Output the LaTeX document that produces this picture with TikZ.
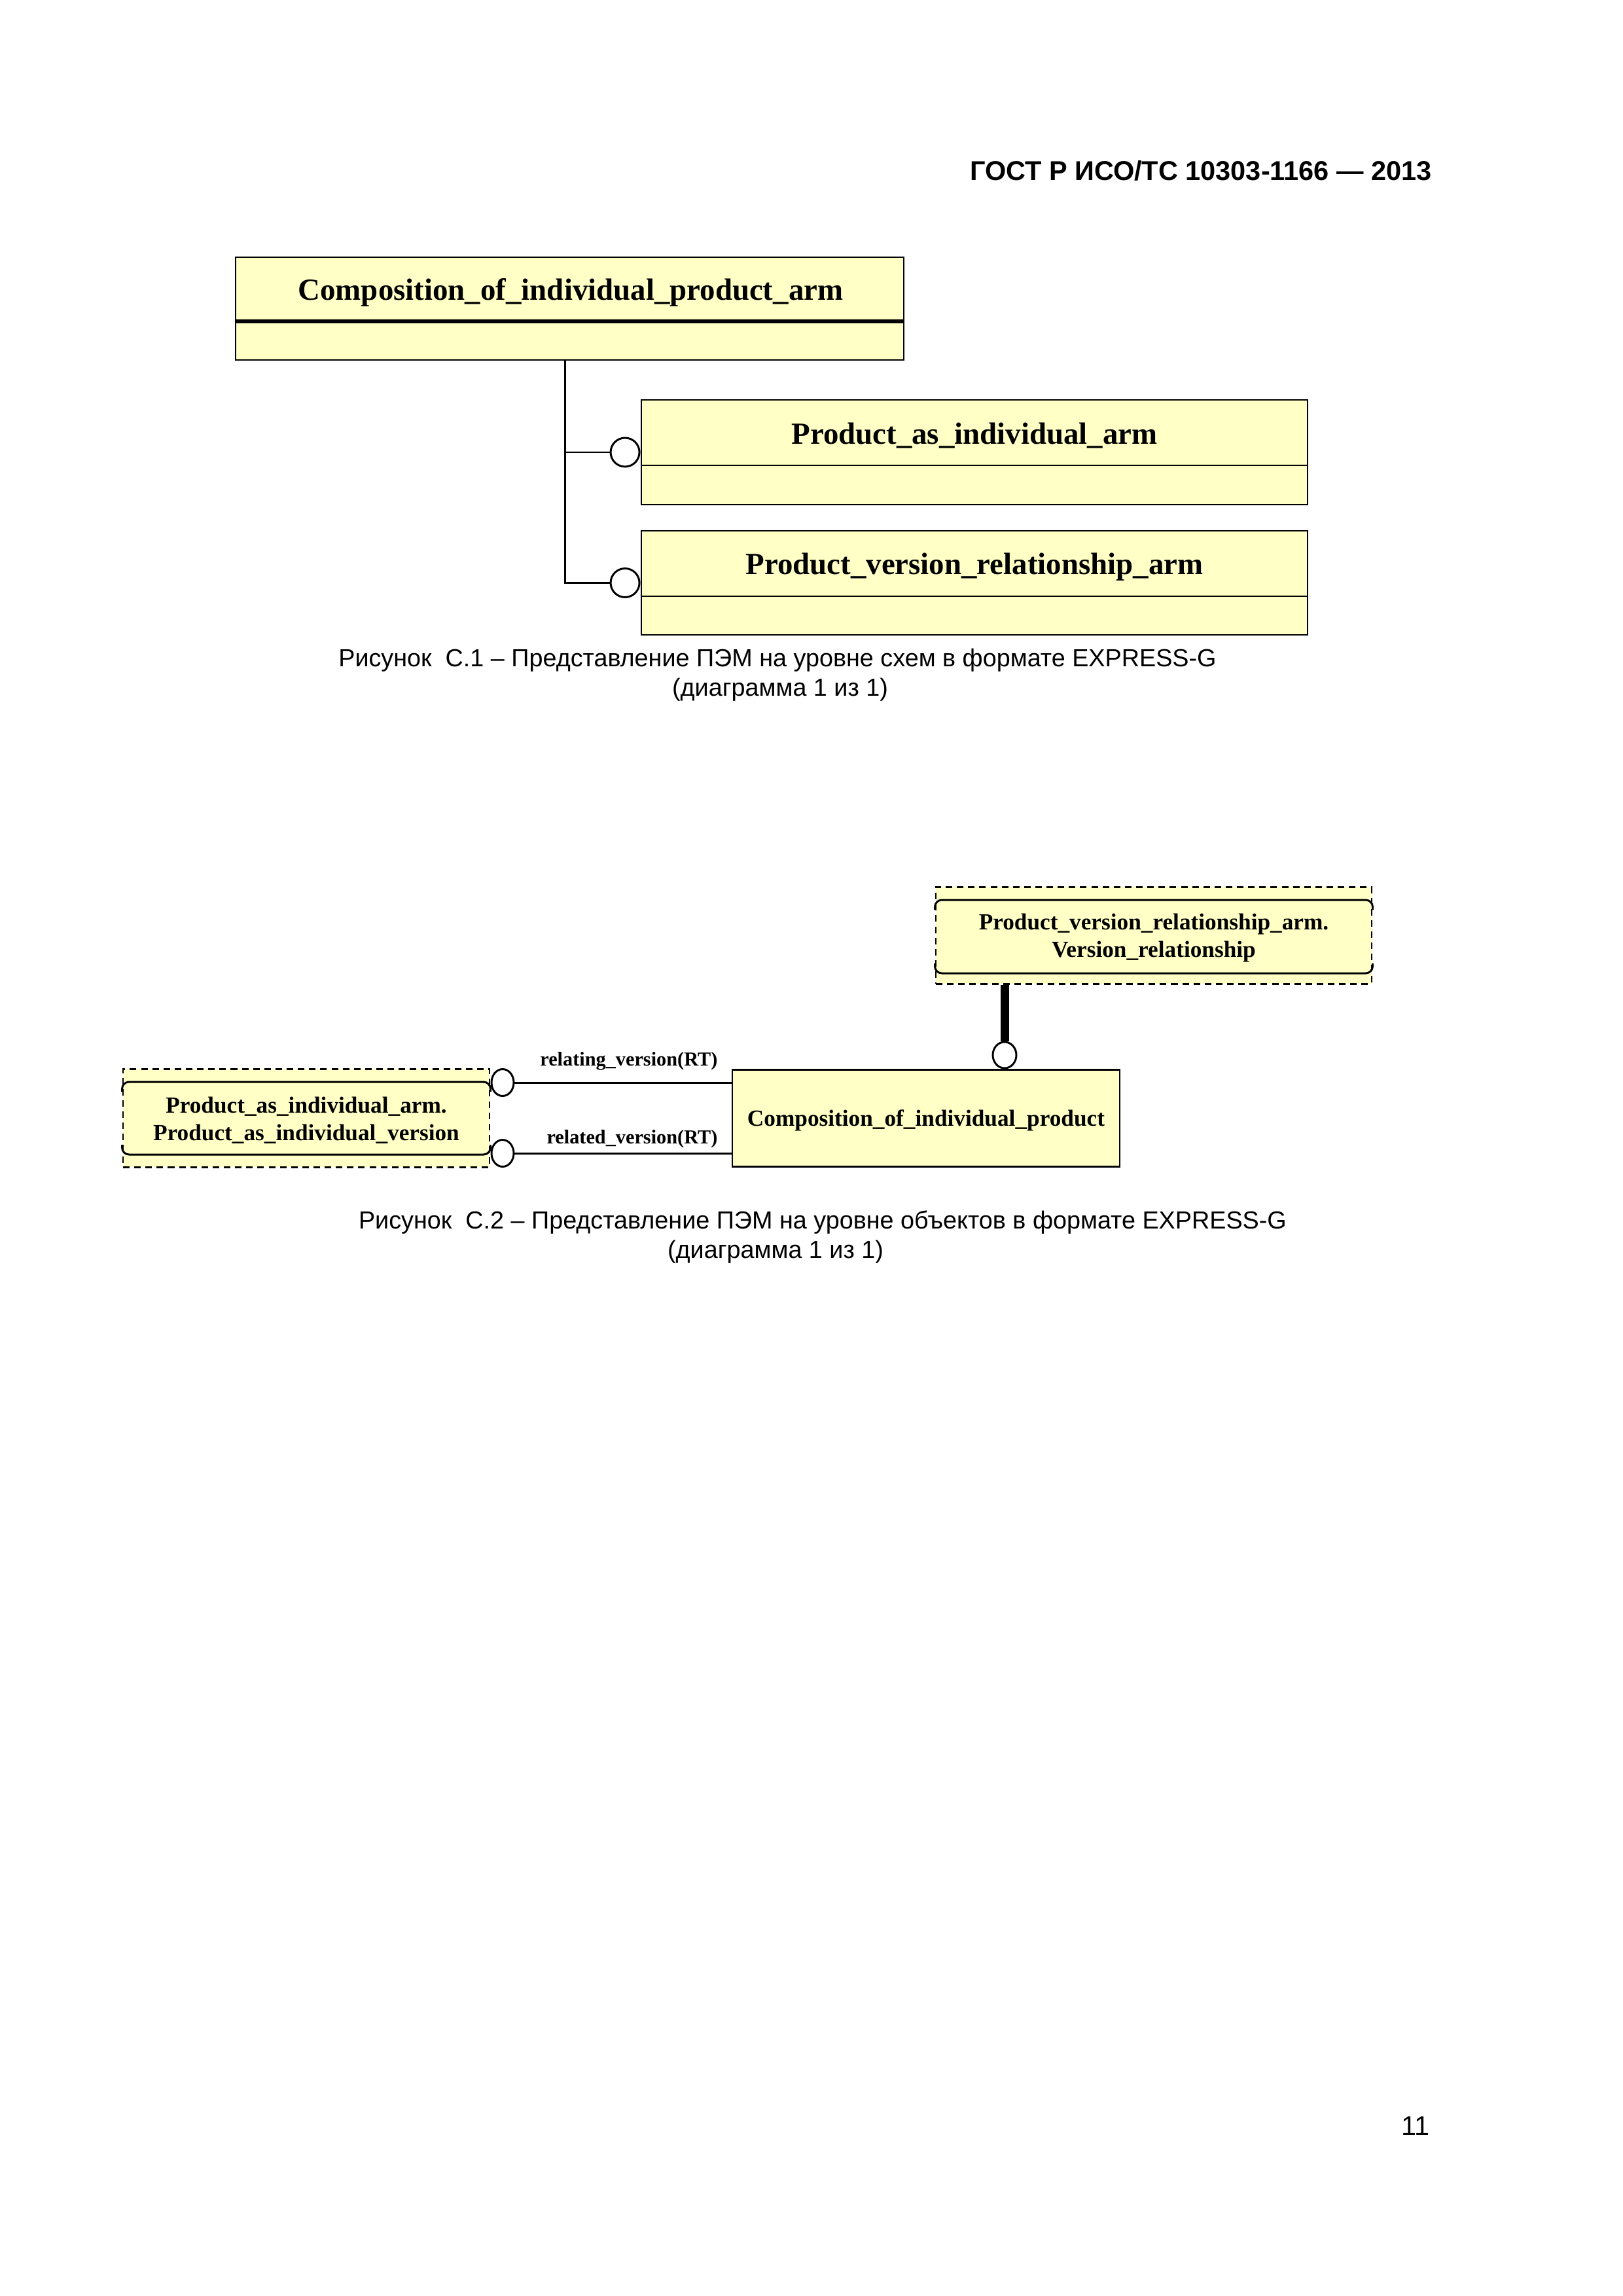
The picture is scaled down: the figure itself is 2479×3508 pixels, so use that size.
\documentclass[tikz,border=0pt]{standalone}
\usepackage{fontspec}
\setmainfont{Liberation Sans}
\newfontfamily\expfont{Liberation Serif}
\usetikzlibrary{positioning,shapes.geometric}
\definecolor{boxfill}{RGB}{255,255,198}
\newcommand{\pxu}{0.08471mm}

\begin{document}
\begin{tikzpicture}[x=\pxu, y=-\pxu, line width=0.25mm,
	ent/.style={draw, fill=boxfill, inner sep=0pt},
	refbox/.style={draw, dash pattern=on 0.85mm off 0.6mm, fill=boxfill, inner sep=0pt},
	ring/.style={draw, ellipse, inner sep=0pt},
	bigname/.style={font=\fontsize{11.3}{13}\expfont\bfseries},
	smallname/.style={font=\fontsize{8.5}{10.2}\expfont\bfseries, align=center},
	role/.style={font=\fontsize{7.3}{8}\expfont\bfseries},
	capt/.style={font=\fontsize{9.1}{10.8}\selectfont, anchor=base}]
	\useasboundingbox (0,0) rectangle (2479,3508);
	\fill[white] (0,0) rectangle (2479,3508);

	\node[font=\fontsize{10}{12}\selectfont\bfseries, anchor=base east] (head) at (2203,275) {ГОСТ Р ИСО/ТС 10303-1166 — 2013};

	% schema level
	\node[ent, minimum width=1021*\pxu, minimum height=157*\pxu] (cip) at (870.5,471.5) {};
	\node[bigname, anchor=base] (cip-t) at (872,458) {Composition\_of\_individual\_product\_arm};
	\draw[line width=0.57mm] (cip.west |- 0,491) -- (cip.east |- 0,491);

	\node[ent, minimum width=1018*\pxu, minimum height=160*\pxu] (pai) at (1489,691) {};
	\node[bigname, anchor=base] (pai-t) at (1489,678) {Product\_as\_individual\_arm};
	\draw (pai.west |- 0,711) -- (pai.east |- 0,711);

	\node[ent, minimum width=1018*\pxu, minimum height=159*\pxu] (pvr) at (1489,890.5) {};
	\node[bigname, anchor=base] (pvr-t) at (1489,877) {Product\_version\_relationship\_arm};
	\draw (pvr.west |- 0,911) -- (pvr.east |- 0,911);

	\node[ring, minimum width=44*\pxu, minimum height=44*\pxu, left=0pt of pai] (pai-c) {};
	\node[ring, minimum width=44*\pxu, minimum height=44*\pxu, left=0pt of pvr] (pvr-c) {};
	\coordinate (trunk) at ([xshift=-0.6mm]cip.south);
	\draw (trunk) |- (pvr-c.west);
	\draw (pai-c.west) -- (pai-c.west -| trunk);

	\node[capt] (cap1) at (1188,1018) {Рисунок \ С.1 – Представление ПЭМ на уровне схем в формате EXPRESS-G};
	\node[capt] (cap1b) at (1192,1063) {(диаграмма 1 из 1)};

	% object level
	\node[refbox, minimum width=666*\pxu, minimum height=148*\pxu] (vr) at (1763,1429) {};
	\draw[rounded corners=0.9mm] (vr.west |- 0,1390) -- (vr.west |- 0,1375) -- (vr.east |- 0,1375) -- (vr.east |- 0,1390);
	\draw[rounded corners=0.9mm] (vr.west |- 0,1472) -- (vr.west |- 0,1487) -- (vr.east |- 0,1487) -- (vr.east |- 0,1472);
	\node[smallname] (vr-t) at (1763,1433) {Product\_version\_relationship\_arm.\\Version\_relationship};

	\node[refbox, minimum width=560*\pxu, minimum height=150*\pxu] (piv) at (468,1708) {};
	\draw[rounded corners=0.9mm] (piv.west |- 0,1668) -- (piv.west |- 0,1653) -- (piv.east |- 0,1653) -- (piv.east |- 0,1668);
	\draw[rounded corners=0.9mm] (piv.west |- 0,1749) -- (piv.west |- 0,1764) -- (piv.east |- 0,1764) -- (piv.east |- 0,1749);
	\node[smallname] (piv-t) at (468,1712) {Product\_as\_individual\_arm.\\Product\_as\_individual\_version};

	\node[ent, minimum width=592*\pxu, minimum height=148*\pxu] (cio) at (1415,1708) {};
	\node[smallname, anchor=base] (cio-t) at (1415,1720) {Composition\_of\_individual\_product};

	\node[ring, minimum width=36*\pxu, minimum height=40*\pxu] (vr-c) at (1535,1612) {};
	\draw[line width=1.1mm] (vr-c.north) -- (vr-c.north |- vr.south);

	\node[ring, minimum width=34*\pxu, minimum height=41*\pxu] (rel1-c) at (768,1654) {};
	\node[ring, minimum width=34*\pxu, minimum height=41*\pxu] (rel2-c) at (768,1762) {};
	\draw (rel1-c.east) -- (rel1-c.east -| cio.west)
		node[role, anchor=base east, xshift=-0.5mm, yshift=2.2mm] {relating\_version(RT)};
	\draw (rel2-c.east) -- (rel2-c.east -| cio.west)
		node[role, anchor=base east, xshift=-0.5mm, yshift=1.2mm] {related\_version(RT)};

	\node[capt] (cap2) at (1257,1877) {Рисунок \ С.2 – Представление ПЭМ на уровне объектов в формате EXPRESS-G};
	\node[capt] (cap2b) at (1185,1922) {(диаграмма 1 из 1)};

	\node[font=\fontsize{10}{12}\selectfont, anchor=base east] (pnum) at (2200,3262) {11};
\end{tikzpicture}
\end{document}
